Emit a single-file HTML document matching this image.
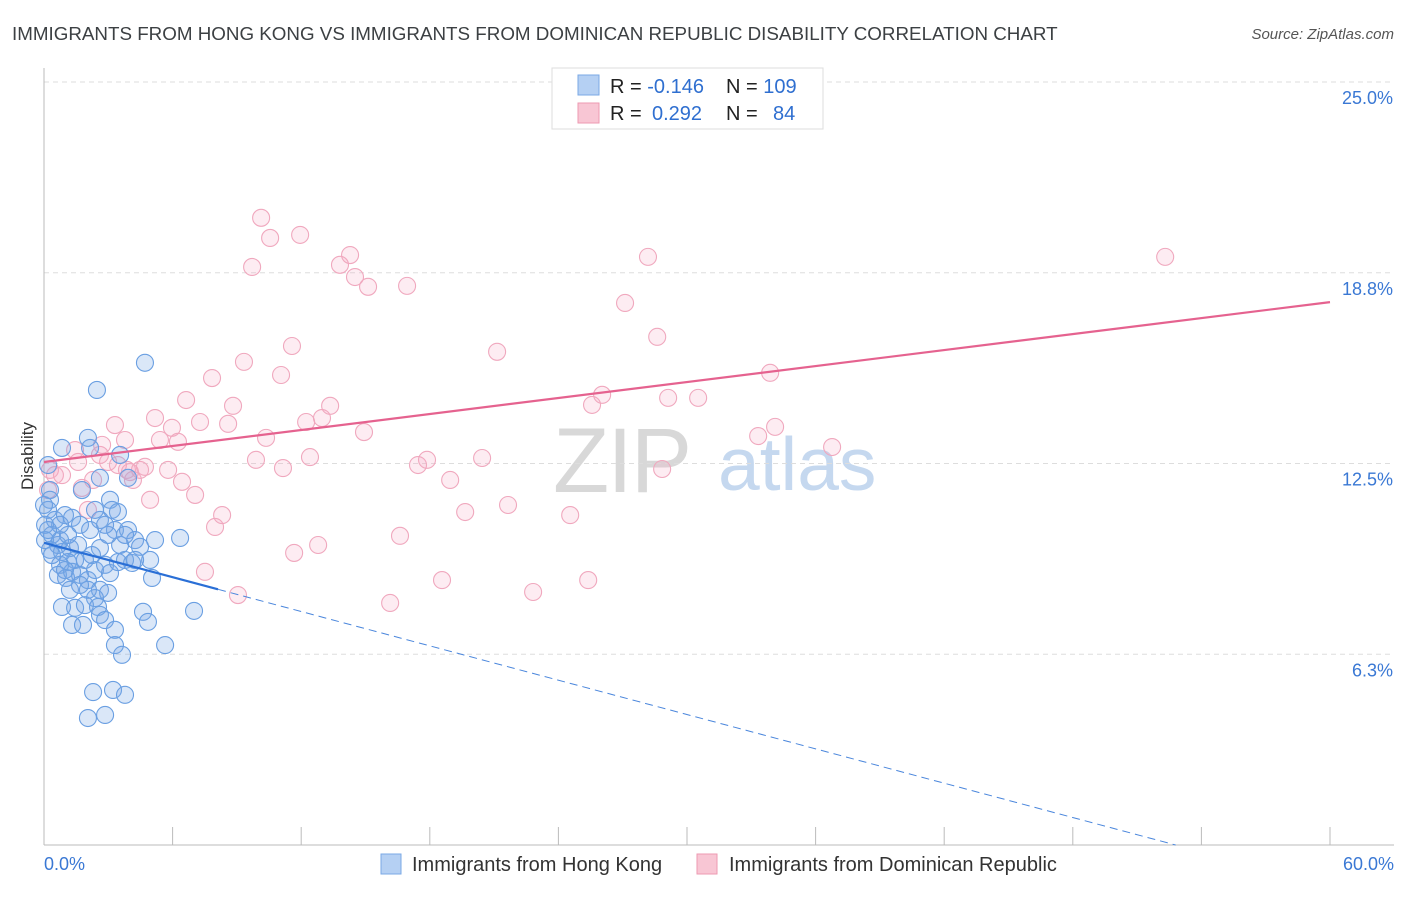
<!DOCTYPE html>
<html><head><meta charset="utf-8"><style>
body{margin:0;background:#fff;font-family:"Liberation Sans",sans-serif}
svg text{font-family:"Liberation Sans",sans-serif}
</style></head><body>
<svg id="chart" width="1406" height="892" viewBox="0 0 1406 892" xmlns="http://www.w3.org/2000/svg">
<text x="12" y="40" font-size="18.8" fill="#3c4043">IMMIGRANTS FROM HONG KONG VS IMMIGRANTS FROM DOMINICAN REPUBLIC DISABILITY CORRELATION CHART</text>
<text x="1394" y="39" font-size="15" fill="#555" text-anchor="end" font-style="italic">Source: ZipAtlas.com</text>
<g>
<text x="553" y="492" font-size="92" fill="#d8d8d8" font-family="Liberation Serif" letter-spacing="-2">ZIP</text>
<text x="718" y="490" font-size="75" fill="#c5d8ef">atlas</text>
</g>
<g id="grid"></g>
<g id="axes"></g>
<g id="pts"></g>
<g id="trend"></g>
<text transform="translate(33,456) rotate(-90)" font-size="17" fill="#333" text-anchor="middle">Disability</text>
<g>
<rect x="552" y="68" width="271" height="61" fill="#fff" stroke="#ddd"/>
<rect x="578" y="75" width="21" height="20" fill="#b5d0f3" stroke="#7aa8e6"/>
<rect x="578" y="103" width="21" height="20" fill="#f8c6d4" stroke="#ee9ab2"/>
<text x="610" y="93" font-size="20" fill="#222">R = <tspan fill="#2f6fd0">-0.146</tspan><tspan x="726">N = </tspan><tspan fill="#2f6fd0">109</tspan></text>
<text x="610" y="120" font-size="20" fill="#222">R = <tspan fill="#2f6fd0" x="652">0.292</tspan><tspan x="726">N = </tspan><tspan fill="#2f6fd0" x="773">84</tspan></text>
</g>
<g>
<rect x="381" y="854" width="20" height="20" fill="#b5d0f3" stroke="#7aa8e6"/>
<text x="412" y="871" font-size="20" fill="#333">Immigrants from Hong Kong</text>
<rect x="697" y="854" width="20" height="20" fill="#f8c6d4" stroke="#ee9ab2"/>
<text x="729" y="871" font-size="20" fill="#333">Immigrants from Dominican Republic</text>
</g>
</svg>
<script>
const xTicks=[0,6,12,18,24,30,36,42,48,54,60];
const yTicks=[6.25,12.5,18.75,25];
const yTickLabels=["6.3%","12.5%","18.8%","25.0%"];
const xEndLabels=["0.0%","60.0%"];
const blueX=[4.71,2.47,2.15,.84,2.05,3.55,3.92,2.61,.19,.28,1.77,3.08,3.17,3.45,.28,.19,.51,.98,1.31,1.68,2.15,2.61,3.31,3.92,4.25,5.18,6.35,.37,.65,.84,1.21,1.45,1.12,.75,.65,1.03,1.31,1.68,2.05,2.38,2.85,3.08,3.45,3.78,4.48,4.95,5.04,4.11,2.61,2.99,2.38,2.05,1.68,.84,1.45,1.91,2.52,1.31,1.82,2.61,2.85,3.31,4.62,4.85,7.00,5.65,3.31,3.64,2.29,3.22,3.78,2.05,2.85,.28,.05,.37,.75,4.25,3.55,2.61,2.24,1.91,1.59,1.12,2.99,3.78,2.38,2.85,.75,.05,.19,0,1.21,.98];
const blueY=[15.80,14.91,13.01,13.01,13.34,12.78,12.03,12.03,12.45,11.63,11.63,11.31,10.98,10.91,11.31,10.98,10.65,10.81,10.72,10.49,10.32,10.65,10.32,10.32,9.99,9.99,10.06,10.16,9.83,9.60,9.73,9.34,9.27,9.18,8.85,8.75,8.95,8.85,8.68,9.01,9.18,8.91,9.27,9.34,9.77,9.34,8.75,9.24,8.36,8.26,8.09,8.36,8.52,7.80,7.77,7.86,7.80,7.21,7.21,7.54,7.37,7.05,7.64,7.31,7.67,6.55,6.55,6.23,5.01,5.08,4.92,4.16,4.26,9.67,9.99,9.50,9.99,9.34,9.83,9.73,9.50,9.34,9.83,10.16,10.16,10.16,10.98,10.49,10.49,10.49,10.32,11.14,8.36,9.01];
const pinkX=[.28,.51,.84,.19,1.45,1.77,1.59,2.05,2.29,2.61,2.71,2.99,3.31,3.45,3.78,3.87,4.01,4.15,4.48,4.71,4.95,5.18,5.41,5.79,5.97,6.25,6.44,6.63,7.05,7.28,7.84,7.98,8.31,7.51,8.59,8.82,9.05,9.33,9.71,9.89,10.13,10.36,10.55,11.06,11.15,11.57,11.67,11.95,12.23,12.41,12.79,12.97,13.35,13.81,14.28,14.51,14.93,15.12,16.15,16.61,16.94,17.45,17.87,18.57,18.95,19.65,20.44,21.14,21.65,22.82,24.55,25.39,25.57,26.04,27.11,28.18,28.61,28.84,29.12,30.52,33.32,33.88,34.11,36.77,52.31,35.37];
const pinkY=[12.29,12.12,12.12,11.63,12.94,11.70,12.55,10.98,11.96,12.78,13.11,12.55,13.76,12.45,13.27,12.29,12.22,11.96,12.29,12.39,11.31,13.99,13.27,12.29,13.67,13.21,11.90,14.58,11.47,13.86,15.30,10.42,10.81,8.95,13.80,14.39,8.19,15.83,18.94,12.62,20.55,13.34,19.89,15.40,12.35,16.35,9.57,19.99,13.86,12.71,9.83,13.99,14.39,19.01,19.33,18.61,13.53,18.29,7.93,10.13,18.32,12.45,12.62,8.68,11.96,10.91,12.68,16.16,11.14,8.29,10.81,8.68,14.42,14.75,17.76,19.27,16.65,12.32,14.65,14.65,13.40,15.47,13.70,13.04,19.27,24.31];
const blueTrend=[9.90,-0.1875];   // intercept, slope
const blueSolidEnd=8.12;
const pinkTrend=[12.55,0.0873];
const X0=44,X1=1330,Y0=845,Y1=82;
const sx=v=>X0+(X1-X0)*v/60;
const sy=v=>Y0-(Y0-Y1)*v/25;
const NS="http://www.w3.org/2000/svg";
function mk(tag,attrs,parent){const e=document.createElementNS(NS,tag);for(const k in attrs)e.setAttribute(k,attrs[k]);parent.appendChild(e);return e;}
const grid=document.getElementById('grid'),axes=document.getElementById('axes'),pts=document.getElementById('pts'),trend=document.getElementById('trend');
yTicks.forEach((t,i)=>{
  const l=mk('line',{x1:X0,x2:1394,y1:sy(t),y2:sy(t),stroke:'#ddd','stroke-dasharray':'5,4'},grid);
  
  
  const tx=mk('text',{x:1393,y:sy(t)+22,'font-size':18,fill:'#3a78d4','text-anchor':'end'},axes);
  tx.textContent=yTickLabels[i];
  
  
});
const ax=mk('line',{x1:X0,x2:X0,y1:68,y2:Y0,stroke:'#bbb'},axes);


const bx=mk('line',{x1:X0,x2:1394,y1:Y0,y2:Y0,stroke:'#bbb'},axes);


xTicks.forEach(t=>{
  const l=mk('line',{x1:sx(t),x2:sx(t),y1:Y0,y2:Y0-18,stroke:'#bbb'},axes);
  
  
});
[[0,'start',44],[60,'end',1394]].forEach((d,i)=>{
  const t=mk('text',{x:d[2],y:870,'font-size':18,fill:'#3a78d4','text-anchor':d[1]},axes);
  t.textContent=xEndLabels[i];
  
  
});
pinkX.forEach((x,i)=>{
  const c=mk('circle',{cx:sx(x),cy:sy(pinkY[i]),r:8.5,fill:'rgba(246,170,195,0.22)',stroke:'#f0a8be','stroke-width':1.1},pts);
  
  
});
blueX.forEach((x,i)=>{
  const c=mk('circle',{cx:sx(x),cy:sy(blueY[i]),r:8.5,fill:'rgba(120,168,230,0.27)',stroke:'#6a9fe2','stroke-width':1.1},pts);
  
  
});
const by=x=>blueTrend[0]+blueTrend[1]*x;
const bs=mk('line',{x1:sx(0),y1:sy(by(0)),x2:sx(blueSolidEnd),y2:sy(by(blueSolidEnd)),stroke:'#2a6fd6','stroke-width':2.2},trend);


const xz=-blueTrend[0]/blueTrend[1];
const bd=mk('line',{x1:sx(blueSolidEnd),y1:sy(by(blueSolidEnd)),x2:sx(xz),y2:sy(0),stroke:'#4a86dc','stroke-width':1,'stroke-dasharray':'8,5'},trend);


const pl=mk('line',{x1:sx(0),y1:sy(pinkTrend[0]),x2:sx(60),y2:sy(pinkTrend[0]+pinkTrend[1]*60),stroke:'#e5628f','stroke-width':2.2},trend);


</script>
</body></html>
